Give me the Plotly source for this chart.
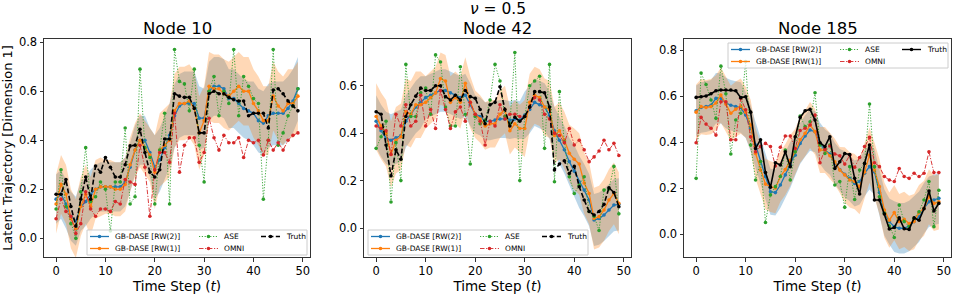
import numpy as np
import plotly.graph_objects as go

# ---------------- data ----------------
t = list(range(50))
node_titles = ["Node 10", "Node 42", "Node 185"]
suptitle = "<i>ν</i> = 0.5"
series_names = ["GB-DASE [RW(2)]", "GB-DASE [RW(1)]", "ASE", "OMNI", "Truth"]

# Node 10
truth_1 = [0.18, 0.18, 0.24, 0.13, 0.05, 0.16, 0.25, 0.16, 0.295, 0.27,
           0.33, 0.29, 0.25, 0.25, 0.30, 0.377, 0.38, 0.445, 0.35, 0.27,
           0.25, 0.28, 0.405, 0.405, 0.59, 0.58, 0.575, 0.575, 0.53, 0.43,
           0.43, 0.59, 0.60, 0.59, 0.59, 0.575, 0.565, 0.56, 0.56, 0.50,
           0.51, 0.51, 0.51, 0.45, 0.605, 0.61, 0.59, 0.56, 0.54, 0.52]
rw2_1 = [0.16, 0.18, 0.14, 0.09, 0.07, 0.13, 0.15, 0.18, 0.20, 0.21,
         0.21, 0.21, 0.21, 0.21, 0.23, 0.29, 0.36, 0.40, 0.40, 0.35,
         0.29, 0.32, 0.37, 0.42, 0.50, 0.54, 0.55, 0.55, 0.55, 0.49,
         0.49, 0.60, 0.62, 0.62, 0.61, 0.57, 0.57, 0.55, 0.53, 0.52,
         0.51, 0.48, 0.47, 0.50, 0.51, 0.51, 0.51, 0.53, 0.56, 0.61]
rw1_1 = [0.14, 0.22, 0.18, 0.08, 0.04, 0.13, 0.18, 0.13, 0.20, 0.21,
         0.21, 0.21, 0.20, 0.20, 0.22, 0.30, 0.36, 0.40, 0.37, 0.34,
         0.27, 0.36, 0.38, 0.40, 0.52, 0.55, 0.55, 0.56, 0.53, 0.43,
         0.48, 0.62, 0.61, 0.61, 0.59, 0.58, 0.60, 0.62, 0.60, 0.60,
         0.55, 0.52, 0.48, 0.48, 0.58, 0.54, 0.52, 0.55, 0.55, 0.58]
ase_1 = [0.12, 0.28, 0.13, 0.06, 0.00, 0.19, 0.37, 0.15, 0.17, 0.23,
         0.20, 0.03, 0.23, 0.23, 0.45, 0.14, 0.17, 0.69, 0.37, 0.33,
         0.14, 0.36, 0.51, 0.14, 0.77, 0.64, 0.63, 0.52, 0.69, 0.38,
         0.23, 0.60, 0.66, 0.50, 0.60, 0.55, 0.77, 0.50, 0.66, 0.62,
         0.57, 0.55, 0.16, 0.40, 0.77, 0.38, 0.43, 0.50, 0.54, 0.61]
omni_1 = [0.08, 0.16, 0.11, 0.09, 0.02, 0.06, 0.19, 0.12, 0.09, 0.12,
          0.12, 0.11, 0.15, 0.14, 0.24, 0.23, 0.22, 0.38, 0.29, 0.09,
          0.28, 0.35, 0.35, 0.31, 0.51, 0.27, 0.38, 0.41, 0.41, 0.31,
          0.35, 0.49, 0.41, 0.36, 0.42, 0.39, 0.39, 0.41, 0.33, 0.40,
          0.39, 0.40, 0.34, 0.40, 0.36, 0.39, 0.36, 0.40, 0.42, 0.43]
band_rw2_1 = [0.10, 0.10, 0.13, 0.12, 0.13]   # half-width per 10-step block
band_rw1_1 = [0.12, 0.11, 0.15, 0.14, 0.14]

# Node 42
truth_2 = [0.49, 0.48, 0.35, 0.22, 0.33, 0.29, 0.47, 0.52, 0.556, 0.59,
           0.58, 0.58, 0.60, 0.60, 0.554, 0.54, 0.56, 0.54, 0.58, 0.554,
           0.547, 0.50, 0.44, 0.52, 0.53, 0.596, 0.50, 0.43, 0.467, 0.45,
           0.47, 0.51, 0.575, 0.575, 0.57, 0.51, 0.245, 0.27, 0.284, 0.23,
           0.26, 0.174, 0.118, 0.07, 0.055, 0.07, 0.10, 0.17, 0.15, 0.09]
rw2_2 = [0.45, 0.41, 0.38, 0.37, 0.38, 0.39, 0.45, 0.48, 0.51, 0.53,
         0.55, 0.56, 0.57, 0.58, 0.58, 0.57, 0.56, 0.55, 0.56, 0.52,
         0.48, 0.47, 0.45, 0.45, 0.455, 0.46, 0.46, 0.455, 0.46, 0.455,
         0.476, 0.50, 0.53, 0.52, 0.51, 0.476, 0.41, 0.37, 0.33, 0.28,
         0.24, 0.195, 0.16, 0.118, 0.034, 0.04, 0.055, 0.076, 0.097, 0.10]
rw1_2 = [0.47, 0.43, 0.40, 0.31, 0.37, 0.385, 0.49, 0.48, 0.52, 0.52,
         0.53, 0.55, 0.57, 0.63, 0.62, 0.53, 0.55, 0.53, 0.61, 0.53,
         0.48, 0.46, 0.43, 0.44, 0.44, 0.48, 0.50, 0.41, 0.44, 0.42,
         0.42, 0.53, 0.56, 0.55, 0.51, 0.50, 0.39, 0.41, 0.37, 0.315,
         0.29, 0.27, 0.19, 0.146, 0.04, 0.048, 0.076, 0.118, 0.146, 0.104]
ase_2 = [0.336, 0.385, 0.45, 0.11, 0.36, 0.20, 0.69, 0.47, 0.47, 0.57,
         0.59, 0.48, 0.73, 0.70, 0.51, 0.43, 0.43, 0.68, 0.48, 0.27,
         0.47, 0.44, 0.455, 0.54, 0.69, 0.62, 0.47, 0.44, 0.74, 0.20,
         0.47, 0.60, 0.62, 0.64, 0.336, 0.69, 0.195, 0.575, 0.364, 0.216,
         0.146, 0.18, 0.216, 0.07, 0.05, -0.01, 0.16, 0.165, 0.26, 0.06]
omni_2 = [0.43, 0.42, 0.41, 0.31, 0.48, 0.43, 0.52, 0.43, 0.45, 0.56,
          0.43, 0.50, 0.42, 0.58, 0.50, 0.42, 0.49, 0.51, 0.45, 0.53,
          0.48, 0.45, 0.35, 0.45, 0.43, 0.52, 0.46, 0.48, 0.48, 0.47,
          0.47, 0.51, 0.55, 0.54, 0.48, 0.46, 0.40, 0.39, 0.36, 0.42,
          0.35, 0.37, 0.33, 0.28, 0.30, 0.325, 0.37, 0.33, 0.357, 0.306]
band_rw2_2 = [0.11, 0.09, 0.08, 0.10, 0.11]
band_rw1_2 = [0.14, 0.11, 0.10, 0.12, 0.13]

# Node 185
truth_3 = [0.594, 0.597, 0.60, 0.61, 0.623, 0.626, 0.626, 0.626, 0.623, 0.593,
           0.597, 0.53, 0.372, 0.41, 0.267, 0.203, 0.31, 0.30, 0.358, 0.293,
           0.423, 0.507, 0.536, 0.542, 0.496, 0.397, 0.38, 0.423, 0.285, 0.314,
           0.35, 0.346, 0.242, 0.174, 0.307, 0.387, 0.148, 0.148, 0.087, 0.022,
           0.028, 0.07, 0.023, 0.02, 0.07, 0.06, 0.11, 0.187, 0.10, 0.133]
rw2_3 = [0.536, 0.55, 0.554, 0.56, 0.59, 0.59, 0.57, 0.56, 0.554, 0.55,
         0.517, 0.46, 0.387, 0.315, 0.25, 0.184, 0.18, 0.213, 0.257, 0.30,
         0.343, 0.394, 0.426, 0.452, 0.445, 0.394, 0.365, 0.348, 0.307, 0.28,
         0.26, 0.242, 0.22, 0.228, 0.264, 0.293, 0.27, 0.18, 0.093, 0.054,
         0.032, 0.025, 0.025, 0.035, 0.054, 0.075, 0.112, 0.14, 0.148, 0.155]
rw1_3 = [0.53, 0.554, 0.55, 0.554, 0.57, 0.604, 0.565, 0.525, 0.543, 0.556,
         0.53, 0.474, 0.35, 0.278, 0.217, 0.206, 0.20, 0.25, 0.28, 0.32,
         0.358, 0.41, 0.438, 0.474, 0.445, 0.365, 0.365, 0.34, 0.314, 0.278,
         0.257, 0.235, 0.228, 0.206, 0.27, 0.343, 0.278, 0.206, 0.104, 0.06,
         0.093, 0.054, 0.064, 0.046, 0.054, 0.093, 0.112, 0.162, 0.133, 0.14]
ase_3 = [0.242, 0.70, 0.65, 0.583, 0.503, 0.73, 0.61, 0.348, 0.496, 0.525,
         0.75, 0.387, 0.235, 0.315, 0.05, 0.17, 0.206, 0.25, 0.365, 0.235,
         0.358, 0.513, 0.467, 0.488, 0.614, 0.387, 0.35, 0.387, 0.213, 0.228,
         0.116, 0.293, 0.15, 0.278, 0.307, 0.565, 0.293, 0.162, 0.09, 0.035,
         -0.015, 0.126, 0.054, 0.032, 0.068, 0.097, 0.148, 0.228, 0.032, 0.19]
omni_3 = [0.397, 0.507, 0.478, 0.46, 0.43, 0.575, 0.575, 0.41, 0.41, 0.59,
          0.54, 0.423, 0.358, 0.38, 0.394, 0.38, 0.296, 0.377, 0.426, 0.426,
          0.372, 0.45, 0.46, 0.474, 0.517, 0.31, 0.368, 0.383, 0.348, 0.34,
          0.304, 0.343, 0.29, 0.333, 0.38, 0.42, 0.31, 0.293, 0.25, 0.235,
          0.228, 0.285, 0.25, 0.242, 0.264, 0.25, 0.264, 0.358, 0.267, 0.267]
band_rw2_3 = [0.11, 0.10, 0.09, 0.10, 0.11]
band_rw1_3 = [0.12, 0.11, 0.10, 0.12, 0.12]

x_ticks = [0, 10, 20, 30, 40, 50]
y_ticks_1 = [0.0, 0.2, 0.4, 0.6, 0.8]
y_ticks_2 = [0.0, 0.2, 0.4, 0.6]
y_ticks_3 = [0.0, 0.2, 0.4, 0.6, 0.8]

# ---------------- styling / layout ----------------
W, H = 959, 300
FONT = "DejaVu Sans"
C_BLUE, C_ORANGE, C_GREEN, C_RED = "#1f77b4", "#ff7f0e", "#2ca02c", "#d62728"
BAND_BLUE = "rgba(31,119,180,0.30)"
BAND_ORANGE = "rgba(255,127,14,0.30)"
DOT = "1.2px,1.6px"
DASHDOT = "4.5px,1.6px,1.2px,1.6px"
DASH = "5px,2.4px"


def px(x):
    return x / W


def py(y):
    return 1 - y / H


panels = [
    dict(data=(rw2_1, rw1_1, ase_1, omni_1, truth_1), bands=(band_rw2_1, band_rw1_1),
         xpx=(44, 310), yrange=[-0.076, 0.813], yticks=y_ticks_1, truth_dash=DASH,
         legend=(87, 230)),
    dict(data=(rw2_2, rw1_2, ase_2, omni_2, truth_2), bands=(band_rw2_2, band_rw1_2),
         xpx=(364, 631), yrange=[-0.122, 0.797], yticks=y_ticks_2, truth_dash=DASH,
         legend=(368, 230)),
    dict(data=(rw2_3, rw1_3, ase_3, omni_3, truth_3), bands=(band_rw2_3, band_rw1_3),
         xpx=(684, 951), yrange=[-0.10, 0.848], yticks=y_ticks_3, truth_dash="solid",
         legend=(728, 43)),
]
Y_TOP, Y_BOT = 39, 257

fig = go.Figure()
shapes = []
annotations = []

for i, p in enumerate(panels):
    k = "" if i == 0 else str(i + 1)
    xa, ya = "x" + k, "y" + k
    rw2, rw1, ase, omni, truth = p["data"]
    hw2 = np.repeat(p["bands"][0], 10)
    hw1 = np.repeat(p["bands"][1], 10)
    for mean, hw, col in ((rw2, hw2, BAND_BLUE), (rw1, hw1, BAND_ORANGE)):
        m = np.array(mean)
        fig.add_trace(go.Scatter(x=t, y=m + hw, mode="lines", line=dict(width=0),
                                 xaxis=xa, yaxis=ya, hoverinfo="skip", showlegend=False))
        fig.add_trace(go.Scatter(x=t, y=m - hw, mode="lines", line=dict(width=0),
                                 fill="tonexty", fillcolor=col,
                                 xaxis=xa, yaxis=ya, hoverinfo="skip", showlegend=False))
    styles = [
        (rw2, C_BLUE, "solid", 1.3),
        (rw1, C_ORANGE, "solid", 1.3),
        (ase, C_GREEN, DOT, 0.9),
        (omni, C_RED, DASHDOT, 0.9),
        (truth, "black", p["truth_dash"], 1.6),
    ]
    for (vals, col, dash, lw), nm in zip(styles, series_names):
        fig.add_trace(go.Scatter(x=t, y=vals, mode="lines+markers", name=nm,
                                 line=dict(color=col, width=lw, dash=dash),
                                 marker=dict(color=col, size=3.6, symbol="circle"),
                                 xaxis=xa, yaxis=ya, showlegend=False))

    x0, x1 = p["xpx"]
    axis_common = dict(showline=True, mirror=True, linecolor="#333333", linewidth=1,
                       ticks="outside", ticklen=3.5, tickwidth=1, tickcolor="#333333",
                       showgrid=False, zeroline=False, automargin=False,
                       tickfont=dict(family=FONT, size=11.5, color="black"))
    fig.update_layout(**{
        "xaxis" + k: dict(domain=[px(x0), px(x1)], anchor=ya, range=[-2.45, 51.45],
                          tickvals=x_ticks,
                          title=dict(text="Time Step (<i>t</i>)", standoff=3,
                                     font=dict(family=FONT, size=13.5, color="black")),
                          **axis_common),
        "yaxis" + k: dict(domain=[py(Y_BOT), py(Y_TOP)], anchor=xa, range=p["yrange"],
                          tickvals=p["yticks"], tickformat=".1f",
                          title=dict(text="Latent Trajectory [Dimension 1]" if i == 0 else "",
                                     standoff=4,
                                     font=dict(family=FONT, size=13, color="black")),
                          **axis_common),
    })
    annotations.append(dict(text=node_titles[i], x=px((x0 + x1) / 2), y=py(28),
                            xref="paper", yref="paper", showarrow=False,
                            xanchor="center", yanchor="middle",
                            font=dict(family=FONT, size=16.5, color="black")))

    # ---- legend (matplotlib style, 3 columns) ----
    L, T = p["legend"]
    shapes.append(dict(type="rect", xref="paper", yref="paper",
                       x0=px(L), x1=px(L + 220), y0=py(T + 25), y1=py(T),
                       fillcolor="rgba(255,255,255,0.8)",
                       line=dict(color="#cccccc", width=1), layer="above"))
    entries = [
        (series_names[0], C_BLUE, "solid", 1.3, 0, 0),
        (series_names[1], C_ORANGE, "solid", 1.3, 0, 1),
        (series_names[2], C_GREEN, DOT, 0.9, 1, 0),
        (series_names[3], C_RED, DASHDOT, 0.9, 1, 1),
        (series_names[4], "black", p["truth_dash"], 1.4, 2, 0),
    ]
    col_off = [3, 112, 174]
    row_off = [6.5, 18.5]
    for nm, col, dash, lw, c, r in entries:
        hx0 = L + col_off[c]
        hx1 = hx0 + 19
        hy = T + row_off[r]
        shapes.append(dict(type="line", xref="paper", yref="paper",
                           x0=px(hx0), x1=px(hx1), y0=py(hy), y1=py(hy),
                           line=dict(color=col, width=lw, dash=dash), layer="above"))
        cx = (hx0 + hx1) / 2
        rr = 1.8
        shapes.append(dict(type="circle", xref="paper", yref="paper",
                           x0=px(cx - rr), x1=px(cx + rr), y0=py(hy + rr), y1=py(hy - rr),
                           fillcolor=col, line=dict(color=col, width=0), layer="above"))
        annotations.append(dict(text=nm, x=px(hx1 + 3.5), y=py(hy), xref="paper", yref="paper",
                                showarrow=False, xanchor="left", yanchor="middle",
                                font=dict(family=FONT, size=7.5, color="black")))

annotations.append(dict(text=suptitle, x=px(497.5), y=py(9), xref="paper", yref="paper",
                        showarrow=False, xanchor="center", yanchor="middle",
                        font=dict(family=FONT, size=15.5, color="black")))

fig.update_layout(width=W, height=H, margin=dict(l=0, r=0, t=0, b=0, autoexpand=False),
                  plot_bgcolor="white", paper_bgcolor="white", showlegend=False,
                  font=dict(family=FONT, color="black"),
                  shapes=shapes, annotations=annotations)

fig.write_html("out.html", config={"displayModeBar": False},
               post_script="document.body.style.margin='0';document.body.style.padding='0';")
